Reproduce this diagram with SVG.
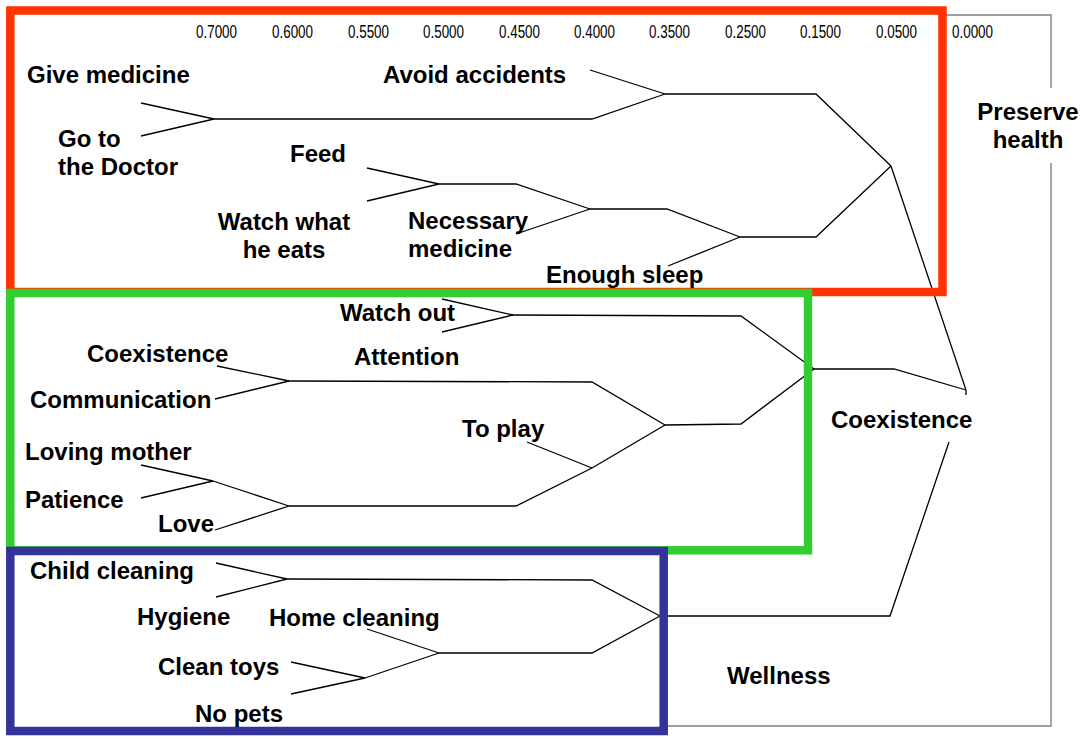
<svg xmlns="http://www.w3.org/2000/svg" width="1084" height="739" viewBox="0 0 1084 739">
<style>
.lbl{font-family:"Liberation Sans",Arial,sans-serif;font-weight:bold;font-size:24px;fill:#000}
.sc{font-family:"Liberation Sans",Arial,sans-serif;font-size:18px;fill:#000}
.ln{fill:none;stroke:#000;stroke-width:1.3;stroke-linejoin:miter}
.frame{fill:none;stroke:#808080;stroke-width:1.4}
.box{fill:none;stroke-width:8.5}
</style>
<rect width="1084" height="739" fill="#fff"/>
<g id="frame">
<polyline class="frame" points="946,15 1051,15 1051,88"/>
<polyline class="frame" points="1051,163 1051,726 666,726"/>
</g>
<g id="scale">
<text class="sc" x="196" y="38" textLength="41" lengthAdjust="spacingAndGlyphs">0.7000</text>
<text class="sc" x="272" y="38" textLength="41" lengthAdjust="spacingAndGlyphs">0.6000</text>
<text class="sc" x="348" y="38" textLength="41" lengthAdjust="spacingAndGlyphs">0.5500</text>
<text class="sc" x="423" y="38" textLength="41" lengthAdjust="spacingAndGlyphs">0.5000</text>
<text class="sc" x="499" y="38" textLength="41" lengthAdjust="spacingAndGlyphs">0.4500</text>
<text class="sc" x="574" y="38" textLength="41" lengthAdjust="spacingAndGlyphs">0.4000</text>
<text class="sc" x="649" y="38" textLength="41" lengthAdjust="spacingAndGlyphs">0.3500</text>
<text class="sc" x="725" y="38" textLength="41" lengthAdjust="spacingAndGlyphs">0.2500</text>
<text class="sc" x="800" y="38" textLength="41" lengthAdjust="spacingAndGlyphs">0.1500</text>
<text class="sc" x="876" y="38" textLength="41" lengthAdjust="spacingAndGlyphs">0.0500</text>
<text class="sc" x="952" y="38" textLength="41" lengthAdjust="spacingAndGlyphs">0.0000</text>
</g>
<g id="connectors">
<polyline class="ln" points="141,103 214,119"/>
<polyline class="ln" points="141,136 214,119"/>
<polyline class="ln" points="214,119 592,119 665,94"/>
<polyline class="ln" points="590,70 665,94"/>
<polyline class="ln" points="665,94 816,94 891,166"/>
<polyline class="ln" points="367,168 439,184"/>
<polyline class="ln" points="367,201 439,184"/>
<polyline class="ln" points="439,184 516,184 590,209"/>
<polyline class="ln" points="516,234 590,209"/>
<polyline class="ln" points="590,209 667,209 740,237"/>
<polyline class="ln" points="668,266 740,237"/>
<polyline class="ln" points="740,237 816,237 891,166"/>
<polyline class="ln" points="891,166 966,390 966,395"/>
<polyline class="ln" points="442,299 513,315"/>
<polyline class="ln" points="442,332 513,315"/>
<polyline class="ln" points="513,315 741,316 814,369"/>
<polyline class="ln" points="217,366 289,381"/>
<polyline class="ln" points="215,399 289,381"/>
<polyline class="ln" points="289,381 592,382 665,425"/>
<polyline class="ln" points="141,465 213,481"/>
<polyline class="ln" points="141,498 213,481"/>
<polyline class="ln" points="213,481 289,506"/>
<polyline class="ln" points="215,530 289,506"/>
<polyline class="ln" points="289,506 516,506 592,468"/>
<polyline class="ln" points="527,442 592,468"/>
<polyline class="ln" points="592,468 665,425"/>
<polyline class="ln" points="665,425 741,424 814,369"/>
<polyline class="ln" points="814,369 894,369 966,390"/>
<polyline class="ln" points="216,563 287,579"/>
<polyline class="ln" points="216,597 287,579"/>
<polyline class="ln" points="287,579 592,580 660,616"/>
<polyline class="ln" points="367,629 439,653"/>
<polyline class="ln" points="291,662 365,678"/>
<polyline class="ln" points="291,694 365,678"/>
<polyline class="ln" points="365,678 439,653"/>
<polyline class="ln" points="439,653 592,653 660,616"/>
<polyline class="ln" points="660,616 890,616 949,442"/>
</g>
<g id="cluster-preserve-health">
<rect class="box" x="10.3" y="10.5" width="932.2" height="281.5" stroke="#ff3300"/>
</g>
<g id="cluster-coexistence">
<rect class="box" x="10.3" y="293" width="797.7" height="257.3" stroke="#33cc33"/>
</g>
<g id="cluster-wellness">
<rect class="box" x="10.3" y="551" width="653.4" height="180" stroke="#333399"/>
</g>
<g id="n-give-medicine"><text class="lbl" x="27" y="83">Give medicine</text></g>
<g id="n-avoid-accidents"><text class="lbl" x="383" y="83">Avoid accidents</text></g>
<g id="n-go-doctor"><text class="lbl" x="58" y="147">Go to</text><text class="lbl" x="58" y="175">the Doctor</text></g>
<g id="n-feed"><text class="lbl" x="290" y="162">Feed</text></g>
<g id="n-watch-eats"><text class="lbl" x="284" y="230" text-anchor="middle">Watch what</text><text class="lbl" x="284" y="258" text-anchor="middle">he eats</text></g>
<g id="n-necessary-medicine"><text class="lbl" x="408" y="229">Necessary</text><text class="lbl" x="408" y="257">medicine</text></g>
<g id="n-enough-sleep"><text class="lbl" x="546" y="283">Enough sleep</text></g>
<g id="n-preserve-health"><text class="lbl" x="1028" y="120" text-anchor="middle">Preserve</text><text class="lbl" x="1028" y="148" text-anchor="middle">health</text></g>
<g id="n-watch-out"><text class="lbl" x="340" y="321">Watch out</text></g>
<g id="n-coexistence-leaf"><text class="lbl" x="87" y="362">Coexistence</text></g>
<g id="n-attention"><text class="lbl" x="354" y="365">Attention</text></g>
<g id="n-communication"><text class="lbl" x="30" y="408">Communication</text></g>
<g id="n-to-play"><text class="lbl" x="462" y="437">To play</text></g>
<g id="n-loving-mother"><text class="lbl" x="25" y="460">Loving mother</text></g>
<g id="n-patience"><text class="lbl" x="25" y="508">Patience</text></g>
<g id="n-love"><text class="lbl" x="158" y="532">Love</text></g>
<g id="n-coexistence"><text class="lbl" x="831" y="428">Coexistence</text></g>
<g id="n-child-cleaning"><text class="lbl" x="30" y="579">Child cleaning</text></g>
<g id="n-hygiene"><text class="lbl" x="137" y="625">Hygiene</text></g>
<g id="n-home-cleaning"><text class="lbl" x="269" y="626">Home cleaning</text></g>
<g id="n-clean-toys"><text class="lbl" x="158" y="675">Clean toys</text></g>
<g id="n-no-pets"><text class="lbl" x="195" y="722">No pets</text></g>
<g id="n-wellness"><text class="lbl" x="727" y="684">Wellness</text></g>
</svg>
